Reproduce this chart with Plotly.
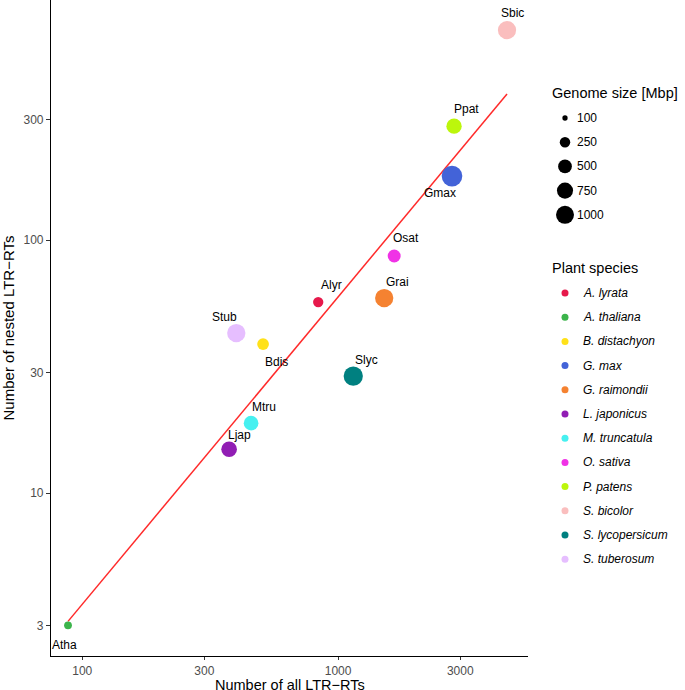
import numpy as np
import plotly.graph_objects as go

# ---------------- data ----------------
species = ["A. lyrata", "A. thaliana", "B. distachyon", "G. max", "G. raimondii",
           "L. japonicus", "M. truncatula", "O. sativa", "P. patens", "S. bicolor",
           "S. lycopersicum", "S. tuberosum"]
codes = ["Alyr", "Atha", "Bdis", "Gmax", "Grai", "Ljap", "Mtru", "Osat", "Ppat",
         "Sbic", "Slyc", "Stub"]
all_ltr = [836, 88, 509, 2786, 1514, 375, 457, 1656, 2838, 4571, 1146, 400]
nested_ltr = [56.9, 3.0, 38.8, 179, 59, 14.9, 18.9, 86.5, 282, 676, 29, 42.9]
genome_mbp = [240, 135, 330, 1420, 1040, 700, 590, 430, 660, 1040, 1190, 1040]
colors = ["#E6194B", "#3CB44B", "#FFE119", "#4363D8", "#F58231", "#911EB4",
          "#46F0F0", "#F032E6", "#BCF60C", "#FABEBE", "#008080", "#E6BEFF"]
size_breaks = [100, 250, 500, 750, 1000]
x_ticks = [100, 300, 1000, 3000]
y_ticks = [3, 10, 30, 100, 300]
x_title = "Number of all LTR\u2212RTs"
y_title = "Number of nested LTR\u2212RTs"

# ---------------- styles ----------------
# label offsets (screen px: dx right, dy down)
label_offsets = {"Alyr": (13, -17), "Atha": (-4, 20), "Bdis": (13, 18), "Gmax": (-12, 17),
                 "Grai": (13, -16), "Ljap": (10, -14), "Mtru": (13, -16), "Osat": (12, -18),
                 "Ppat": (12, -17), "Sbic": (5, -17), "Slyc": (13, -16), "Stub": (-12, -16)}
FONT = "Liberation Sans, Arial, Helvetica, sans-serif"


def diam(v):
    return 5.3 + 0.423 * np.sqrt(np.maximum(np.asarray(v, float) - 100, 0))


fig = go.Figure()

# regression line (log-log least squares)
lx = np.log10(all_ltr)
ly = np.log10(nested_ltr)
slope, icpt = np.polyfit(lx, ly, 1)
xs = np.linspace(lx.min(), lx.max(), 50)
fig.add_trace(go.Scatter(x=10 ** xs, y=10 ** (icpt + slope * xs), mode="lines",
                         line=dict(color="#FF2A2A", width=1.5), showlegend=False,
                         hoverinfo="skip"))

# points
fig.add_trace(go.Scatter(x=all_ltr, y=nested_ltr, mode="markers",
                         marker=dict(size=diam(genome_mbp), color=colors, opacity=1,
                                     line=dict(width=0)),
                         text=species, showlegend=False))

for c, xv, yv in zip(codes, all_ltr, nested_ltr):
    dx, dy = label_offsets[c]
    fig.add_annotation(x=np.log10(xv), y=np.log10(yv), text=c, showarrow=False,
                       xshift=dx, yshift=-dy, font=dict(size=12, color="black", family=FONT))

# ---------------- manual legends on hidden axes (pixel-like units) ----------------
leg_x_dot = 565
leg_x_text = 575
leg_x_title = 550
size_title_y = 93
size_row0 = 118
species_title_y = 268
species_row0 = 293
row_step = 24.2

W, H = 685, 690
ML, MR, MT, MB = 51, 0, 0, 34
pw = W - ML - MR
main_right = (528 - ML) / pw


def legend_text(xpos, ypos, texts, size):
    for xv, yv, t in zip(xpos, ypos, texts):
        fig.add_annotation(x=xv, y=yv, xref="x2", yref="y2", text=t, showarrow=False,
                           xanchor="left", yanchor="middle",
                           font=dict(size=size, color="black", family=FONT))


size_rows = [size_row0 + i * row_step for i in range(len(size_breaks))]
fig.add_trace(go.Scatter(x=[leg_x_dot] * len(size_breaks), y=size_rows, mode="markers",
                         marker=dict(size=diam(size_breaks), color="#000000", opacity=1,
                                     line=dict(width=0)),
                         xaxis="x2", yaxis="y2", showlegend=False, hoverinfo="skip"))
legend_text([leg_x_text] * len(size_breaks), size_rows, [str(s) for s in size_breaks], 12)

sp_rows = [species_row0 + i * row_step for i in range(len(species))]
fig.add_trace(go.Scatter(x=[leg_x_dot] * len(species), y=sp_rows, mode="markers",
                         marker=dict(size=7, color=colors, line=dict(width=0)),
                         xaxis="x2", yaxis="y2", showlegend=False, hoverinfo="skip"))
legend_text([leg_x_text + 6] * len(species), sp_rows, ["<i>%s</i>" % s for s in species], 12)
legend_text([leg_x_title] * 2, [size_title_y, species_title_y],
            ["Genome size [Mbp]", "Plant species"], 14.5)

# x-axis title (placed below tick labels)
fig.add_annotation(x=main_right / 2, y=0, xref="paper", yref="paper", text=x_title,
                   showarrow=False, xanchor="center", yanchor="middle", yshift=-28.5,
                   borderpad=0,
                   font=dict(size=14.5, color="black", family=FONT))

axis_common = dict(type="log", showgrid=False, zeroline=False, showline=True,
                   linecolor="black", linewidth=1.2, ticks="outside",
                   tickwidth=1.1, tickcolor="#333333", automargin=False,
                   tickfont=dict(size=12, color="#4D4D4D", family=FONT))

fig.update_layout(
    width=W, height=H,
    margin=dict(l=ML, r=MR, t=MT, b=MB),
    paper_bgcolor="white", plot_bgcolor="white",
    font=dict(family=FONT, color="black"),
    xaxis=dict(domain=[0, main_right], range=[1.878, 3.742], tickvals=x_ticks,
               ticktext=[str(t) for t in x_ticks], ticklen=3,
               **axis_common),
    yaxis=dict(range=[0.356, 2.949], tickvals=y_ticks, ticktext=[str(t) for t in y_ticks],
               ticklen=4,
               title=dict(text=y_title, font=dict(size=15, color="black"), standoff=6),
               **axis_common),
    xaxis2=dict(domain=[(540 - ML) / pw, 1], range=[540, 685], visible=False, fixedrange=True),
    yaxis2=dict(domain=[0, 1], range=[H - MB, 0], visible=False, fixedrange=True,
                anchor="x2"),
    showlegend=False,
)

fig.write_html("out.html", config={"displayModeBar": False},
               post_script="document.body.style.margin='0';")
